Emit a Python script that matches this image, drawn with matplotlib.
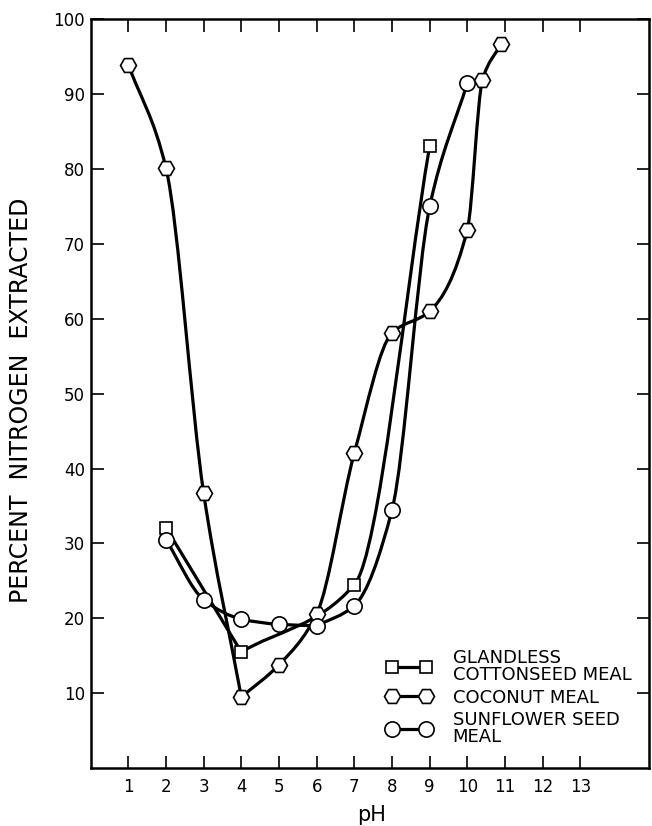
import numpy as np
import matplotlib
matplotlib.use("Agg")
import matplotlib.pyplot as plt
from matplotlib.path import Path
from matplotlib.patches import PathPatch
from matplotlib.lines import Line2D

# Values
ph_cotton = [2, 4, 7, 9]
n_cotton = [32.1, 15.5, 24.5, 83.1]

ph_coconut = [1, 2, 3, 4, 5, 6, 7, 8, 9, 10, 10.4, 10.9]
n_coconut = [93.9, 80.1, 36.7, 9.5, 13.8, 20.6, 42.1, 58.1, 61.0, 71.9, 91.9, 96.7]

ph_sunflower = [2, 3, 4, 5, 6, 7, 8, 9, 10]
n_sunflower = [30.5, 22.5, 19.9, 19.2, 19.0, 21.7, 34.5, 75.0, 91.5]

labels = ["GLANDLESS\nCOTTONSEED MEAL", "COCONUT MEAL", "SUNFLOWER SEED\nMEAL"]
x_ticks = list(range(1, 14))
y_ticks = list(range(10, 101, 10))


def smooth_path(xs, ys):
    # hand-drawn look: cubic segments, corners at turning points
    xs = np.asarray(xs, float)
    ys = np.asarray(ys, float)
    h = np.diff(xs)
    d = np.diff(ys) / h
    n = len(xs)
    m = np.full(n, np.nan)
    m[0] = d[0]
    m[-1] = d[-1]
    for i in range(1, n - 1):
        if d[i - 1] * d[i] > 0:
            w1 = 2 * h[i] + h[i - 1]
            w2 = h[i] + 2 * h[i - 1]
            m[i] = (w1 + w2) / (w1 / d[i - 1] + w2 / d[i])
    verts = [(xs[0], ys[0])]
    codes = [Path.MOVETO]
    for i in range(n - 1):
        m0 = d[i] if np.isnan(m[i]) else m[i]
        m1 = d[i] if np.isnan(m[i + 1]) else m[i + 1]
        verts += [(xs[i] + h[i] / 3, ys[i] + m0 * h[i] / 3),
                  (xs[i + 1] - h[i] / 3, ys[i + 1] - m1 * h[i] / 3),
                  (xs[i + 1], ys[i + 1])]
        codes += [Path.CURVE4] * 3
    return Path(verts, codes)


plt.rcParams['font.family'] = ['DejaVu Sans']

fig = plt.figure(figsize=(6.52, 8.26), dpi=100)
ax = fig.add_axes([0.139, 0.070, 0.857, 0.907])

series = [
    (ph_cotton, n_cotton, 's', 9),
    (ph_coconut, n_coconut, 'H', 11.5),
    (ph_sunflower, n_sunflower, 'o', 11),
]
handles = []
for xs, ys, mk, ms in series:
    ax.add_patch(PathPatch(smooth_path(xs, ys), fill=False, lw=2.3,
                           edgecolor='black', zorder=2))
    ax.plot(xs, ys, linestyle='none', marker=mk, ms=ms, mfc='white',
            mec='black', mew=1.2, zorder=3)
    handles.append(Line2D([], [], color='black', lw=2.3, marker=mk, ms=ms,
                          mfc='white', mec='black', mew=1.2))

ax.set_xlim(0, 14.83)
ax.set_ylim(0, 100)
ax.set_xticks(x_ticks)
ax.set_yticks(y_ticks)
ax.set_xticklabels([str(t) for t in x_ticks])
ax.set_yticklabels([str(t) for t in y_ticks])
ax.tick_params(direction='in', length=9, width=1.2, labelsize=12,
               top=True, right=True, color='black')
ax.tick_params(axis='x', pad=7)
ax.tick_params(axis='y', pad=4)
for s in ax.spines.values():
    s.set_linewidth(1.8)

ax.set_ylabel("PERCENT  NITROGEN  EXTRACTED", fontsize=17)
ax.yaxis.set_label_coords(-0.104, 0.491)
ax.set_xlabel("pH", fontsize=15)
ax.xaxis.set_label_coords(0.502, -0.049)

leg = ax.legend(handles, labels, loc='lower left',
                bbox_to_anchor=(0.530, 0.030), frameon=False, numpoints=2,
                handlelength=2.5, handletextpad=1.15, labelspacing=0.25,
                borderpad=0, borderaxespad=0, fontsize=13)
for t in leg.get_texts():
    t.set_linespacing(0.9)

fig.savefig("out.png", dpi=100)
